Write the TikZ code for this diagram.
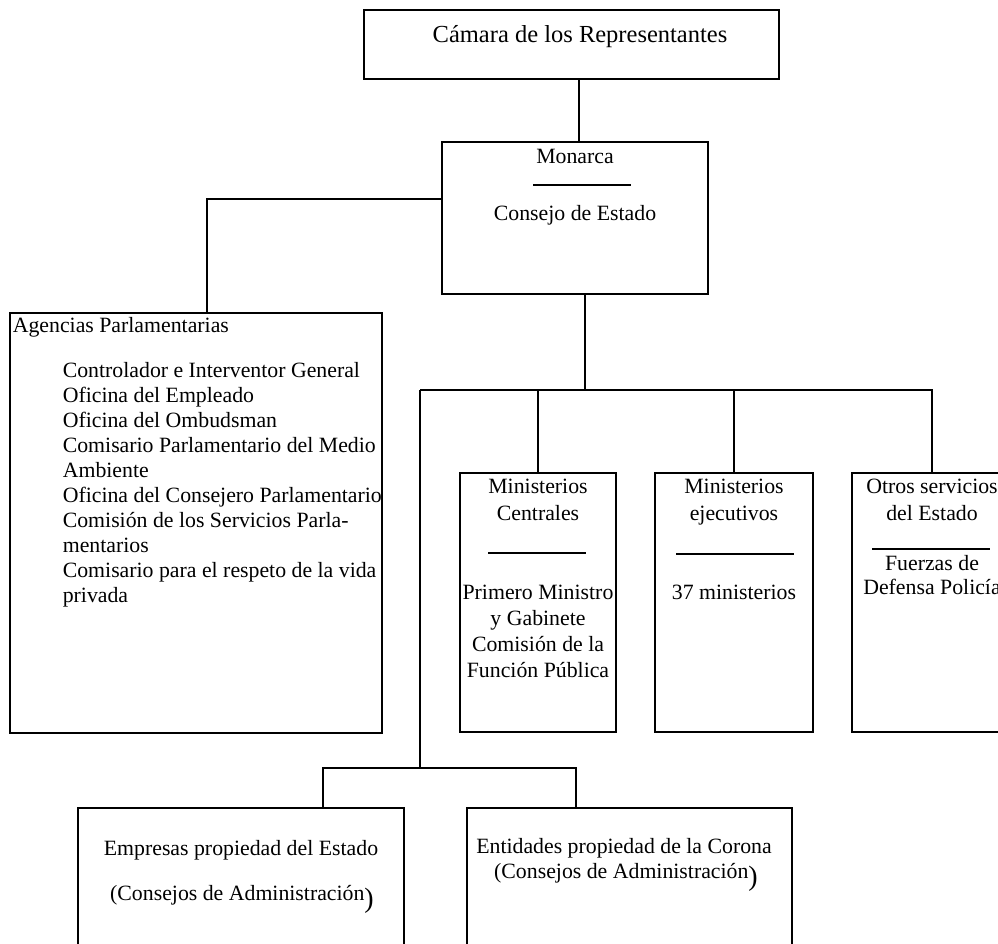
\documentclass[tikz,border=0pt]{standalone}
\usepackage{fontspec}
\setmainfont{Liberation Serif}
\usetikzlibrary{calc}
\begin{document}
\begin{tikzpicture}[x=1pt,y=-1pt,line width=1.6pt,
  box/.style={draw,inner sep=0pt},
  txt/.style={font=\fontsize{21.8}{26}\selectfont,inner sep=0pt,anchor=base},
  txtl/.style={txt,anchor=base west},
  wire/.style={line width=1.6pt},
  sepline/.style={line width=1.6pt}]
\useasboundingbox (0,0) rectangle (998,944);
\clip (0,0) rectangle (998,944);

% boxes
\node[box,minimum width=415pt,minimum height=69pt]  (camara)    at (571.5,44.5) {};
\node[box,minimum width=266pt,minimum height=152pt] (monarca)   at (575,218) {};
\node[box,minimum width=372pt,minimum height=420pt] (agencias)  at (196,523) {};
\node[box,minimum width=156pt,minimum height=259pt] (central)   at (538,602.5) {};
\node[box,minimum width=158pt,minimum height=259pt] (ejec)      at (734,602.5) {};
\node[box,minimum width=160pt,minimum height=259pt] (otros)     at (932,602.5) {};
\node[box,minimum width=326pt,minimum height=152pt] (empresas)  at (241,884) {};
\node[box,minimum width=325pt,minimum height=152pt] (entidades) at (629.5,884) {};

% texts
\node[txt] (tcam) at (580,43) {\fontsize{24.5}{28}\selectfont Cámara de los Representantes};
\node[txt] (tmon) at (575,164) {Monarca};
\node[txt] (tcon) at (575,220) {Consejo de Estado};

\node[txtl] (tag) at (12,332) {Agencias Parlamentarias};
\foreach \t [count=\i] in {Controlador e Interventor General,
  Oficina del Empleado, Oficina del Ombudsman,
  Comisario Parlamentario del Medio, Ambiente,
  Oficina del Consejero Parlamentario,
  Comisión de los Servicios Parla-, mentarios,
  Comisario para el respeto de la vida, privada}
  \node[txtl] (ag\i) at (62,352+25*\i) {\t};

\node[txt] (mc1) at (538,493) {Ministerios};
\node[txt] (mc2) at (538,520) {Centrales};
\node[txt] (mc3) at (538,599) {Primero Ministro};
\node[txt] (mc4) at (538,625) {y Gabinete};
\node[txt] (mc5) at (538,651) {Comisión de la};
\node[txt] (mc6) at (538,677) {Función Pública};

\node[txt] (me1) at (734,493) {Ministerios};
\node[txt] (me2) at (734,520) {ejecutivos};
\node[txt] (me3) at (734,599) {37 ministerios};

\node[txt] (ot1) at (932,493) {Otros servicios};
\node[txt] (ot2) at (932,520) {del Estado};
\node[txt] (ot3) at (932,570) {Fuerzas de};
\node[txt] (ot4) at (932,594) {Defensa Policía};

\node[txt] (em1) at (241,855) {Empresas propiedad del Estado};
\node[txt] (em2) at (242,900) {(Consejos de Administración{\fontsize{28}{28}\selectfont\raisebox{-7pt}{)}}};
\node[txt] (en1) at (624,853) {Entidades propiedad de la Corona};
\node[txt] (en2) at (626,878) {(Consejos de Administración{\fontsize{28}{28}\selectfont\raisebox{-7pt}{)}}};

% separator rules inside boxes
\draw[sepline] ($(monarca.north)+(-42,44)$) -- ++(98,0);
\draw[sepline] ($(central.north)+(-50,81)$) -- ++(98,0);
\draw[sepline] ($(ejec.north)+(-58,82)$) -- ++(118,0);
\draw[sepline] ($(otros.north)+(-60,77)$) -- ++(118,0);

% connectors
\draw[wire] ([xshift=7.5pt]camara.south) -- ([xshift=4pt]monarca.north);
\draw[wire] ([yshift=19pt]monarca.west) -| ([xshift=11pt]agencias.north);
\coordinate (busW) at (420,390);
\coordinate (busS) at (420,768);
\draw[wire] ([xshift=10pt]monarca.south) -- ([xshift=10pt]monarca.south |- busW);
\draw[wire] (busW) -- (otros.north |- busW) -- (otros.north);
\draw[wire] (central.north |- busW) -- (central.north);
\draw[wire] (ejec.north |- busW) -- (ejec.north);
\draw[wire] (busW) -- (busS);
\draw[wire] (busS) -| ([xshift=82pt]empresas.north);
\draw[wire] (busS) -| ([xshift=-53.5pt]entidades.north);
\end{tikzpicture}
\end{document}
